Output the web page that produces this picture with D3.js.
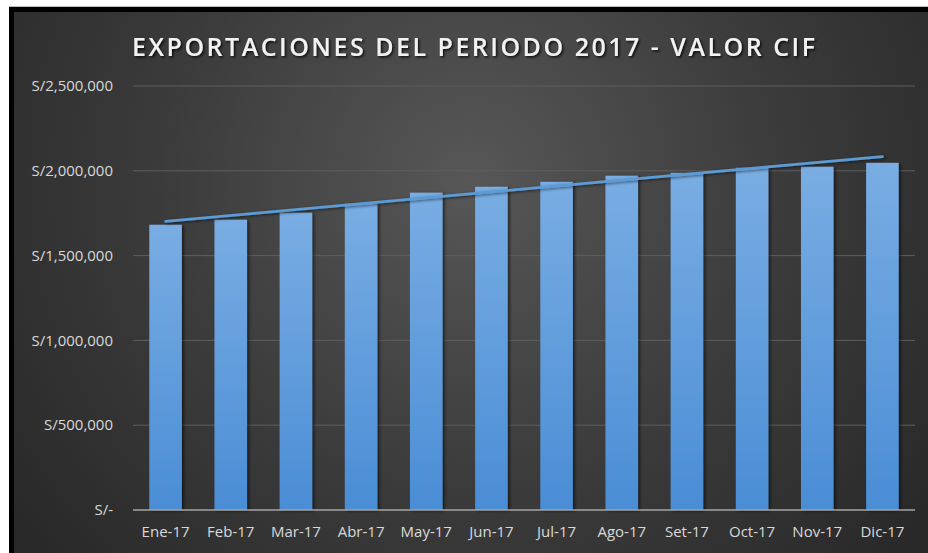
<!DOCTYPE html>
<html><head><meta charset="utf-8">
<script src="https://cdn.jsdelivr.net/npm/d3@7"></script>
<style>html,body{margin:0;padding:0;background:#fff;overflow:hidden;}svg{display:block;}</style>
</head><body>
<svg id="c" width="928" height="553"></svg>
<script>
const categories = ["Ene-17","Feb-17","Mar-17","Abr-17","May-17","Jun-17","Jul-17","Ago-17","Set-17","Oct-17","Nov-17","Dic-17"];
const values = [1682000,1712000,1753000,1806000,1871000,1906000,1935000,1971000,1988000,2018000,2024000,2047000];
const yTicks = [0,500000,1000000,1500000,2000000,2500000];
const title = "EXPORTACIONES DEL PERIODO 2017 - VALOR CIF";

const svg = d3.select("#c");
const defs = svg.append("defs");
const bg = defs.append("radialGradient").attr("id","bg").attr("gradientUnits","userSpaceOnUse")
  .attr("cx",470).attr("cy",180).attr("r",620);
bg.append("stop").attr("offset","0").attr("stop-color","#575757");
bg.append("stop").attr("offset","0.5").attr("stop-color","#3b3b3b");
bg.append("stop").attr("offset","1").attr("stop-color","#252525");
const bar = defs.append("linearGradient").attr("id","bar").attr("x1",0).attr("x2",0).attr("y1",0).attr("y2",1);
bar.append("stop").attr("offset","0").attr("stop-color","#79ade3");
bar.append("stop").attr("offset","1").attr("stop-color","#4a8dd5");
const sh = defs.append("filter").attr("id","sh").attr("x","-20%").attr("y","-20%").attr("width","140%").attr("height","140%");
sh.append("feDropShadow").attr("dx",2).attr("dy",1).attr("stdDeviation",1.5).attr("flood-color","#000").attr("flood-opacity",0.55);
const tsh = defs.append("filter").attr("id","tsh");
tsh.append("feDropShadow").attr("dx",1.5).attr("dy",1.5).attr("stdDeviation",1.2).attr("flood-color","#000").attr("flood-opacity",0.8);

// chart frame: background panel plus dark top/left edges
svg.append("rect").attr("x",9).attr("y",7).attr("width",919).attr("height",546).attr("fill","url(#bg)");
svg.append("rect").attr("x",9).attr("y",7).attr("width",919).attr("height",5).attr("fill","#000");
svg.append("rect").attr("x",9).attr("y",7).attr("width",5).attr("height",546).attr("fill","#000");
svg.append("line").attr("x1",9).attr("x2",928).attr("y1",6.5).attr("y2",6.5).attr("stroke","#bbb").attr("stroke-width",1);

const x = d3.scaleBand().domain(categories).range([133,915]).paddingInner(0.5).paddingOuter(0.25);
const y = d3.scaleLinear().domain([0,2500000]).range([510,86]);

// gridlines
svg.append("g").selectAll("line").data(yTicks.filter(d=>d>0)).join("line")
  .attr("x1",133).attr("x2",915).attr("y1",d=>y(d)).attr("y2",d=>y(d))
  .attr("stroke","#5e5e5e").attr("stroke-width",1);

// y labels
const fmt = d => d===0 ? "S/-" : "S/" + d3.format(",")(d);
svg.append("g").selectAll("text").data(yTicks).join("text")
  .attr("x",113).attr("y",d=>y(d)).attr("dy","0.35em").attr("text-anchor","end")
  .attr("font-family","'Open Sans', sans-serif").attr("font-size",15).attr("fill","#d9d9d9")
  .text(fmt);

// bars
svg.append("g").selectAll("rect").data(values).join("rect")
  .attr("x",(d,i)=>x(categories[i])).attr("width",x.bandwidth())
  .attr("y",d=>y(d)).attr("height",d=>y(0)-y(d))
  .attr("fill","url(#bar)").attr("filter","url(#sh)");

// axis baseline
svg.append("line").attr("x1",133).attr("x2",915).attr("y1",y(0)).attr("y2",y(0))
  .attr("stroke","#a6a6a6").attr("stroke-width",1.5);

// x labels
svg.append("g").selectAll("text").data(categories).join("text")
  .attr("x",d=>x(d)+x.bandwidth()/2).attr("y",537).attr("text-anchor","middle")
  .attr("font-family","'Open Sans', sans-serif").attr("font-size",15).attr("fill","#d9d9d9")
  .text(d=>d);

// linear trendline (least squares)
const n = values.length;
const xs = d3.range(1,n+1);
const mx = d3.mean(xs), my = d3.mean(values);
const slope = d3.sum(xs,(v,i)=>(v-mx)*(values[i]-my)) / d3.sum(xs,v=>(v-mx)*(v-mx));
const icpt = my - slope*mx;
const cx = i => x(categories[i]) + x.bandwidth()/2;
svg.append("line")
  .attr("x1",cx(0)).attr("y1",y(icpt+slope*1))
  .attr("x2",cx(n-1)).attr("y2",y(icpt+slope*n))
  .attr("stroke","#5b9bd5").attr("stroke-width",2.75).attr("stroke-linecap","round")
  .attr("filter","url(#sh)");

// title
svg.append("text").attr("x",132).attr("y",56)
  .attr("textLength",683).attr("lengthAdjust","spacing")
  .attr("font-family","'Open Sans', sans-serif").attr("font-weight",600).attr("font-size",25)
  .attr("fill","#f2f2f2").attr("filter","url(#tsh)")
  .text(title);
</script>
</body></html>
